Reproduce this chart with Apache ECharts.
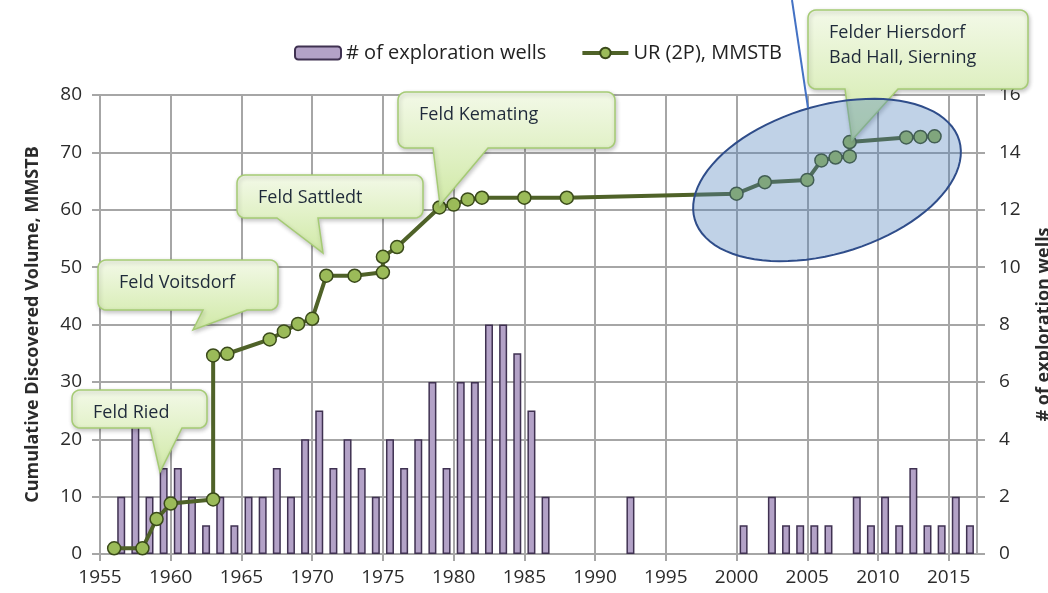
<!DOCTYPE html>
<html>
<head>
<meta charset="utf-8">
<title>Exploration wells and cumulative discovered volume</title>
<script src="https://cdn.jsdelivr.net/npm/echarts@6/dist/echarts.min.js"></script>
<style>
    html, body { margin: 0; padding: 0; background: #fff; }
    #chart { width: 1048px; height: 593px; }
</style>
</head>
<body>
<div id="chart"></div>
<script>
    // # of exploration wells per year (right axis)
    const wellYears = [1956, 1957, 1958, 1959, 1960, 1961, 1962, 1963, 1964, 1965, 1966, 1967, 1968, 1969, 1970,
        1971, 1972, 1973, 1974, 1975, 1976, 1977, 1978, 1979, 1980, 1981, 1982, 1983, 1984, 1985, 1986,
        1992, 2000, 2002, 2003, 2004, 2005, 2006, 2008, 2009, 2010, 2011, 2012, 2013, 2014, 2015, 2016];
    const wellCounts = [2, 5, 2, 3, 3, 2, 1, 2, 1, 2, 2, 3, 2, 4, 5,
        3, 4, 3, 2, 4, 3, 4, 6, 3, 6, 6, 8, 8, 7, 5, 2,
        2, 1, 2, 1, 1, 1, 1, 2, 1, 2, 1, 3, 1, 1, 2, 1];

    // UR (2P), MMSTB - cumulative discovered volume (left axis)
    const urYears = [1956, 1958, 1959, 1960, 1963, 1963, 1964, 1967, 1968, 1969, 1970, 1971, 1973, 1975, 1975, 1976,
        1979, 1980, 1981, 1982, 1985, 1988, 2000, 2002, 2005, 2006, 2007, 2008, 2008, 2012, 2013, 2014];
    const urValues = [1, 1, 6.1, 8.8, 9.5, 34.6, 34.9, 37.4, 38.8, 40.1, 41, 48.5, 48.5, 49.1, 51.8, 53.5,
        60.4, 60.9, 61.8, 62.1, 62.1, 62.1, 62.8, 64.8, 65.2, 68.6, 69.1, 69.3, 71.8, 72.6, 72.7, 72.8];

    const yearMin = 1955, yearMax = 2017, yearStep = 5;
    const volumeMax = 80, volumeStep = 10;
    const wellsMax = 16, wellsStep = 2;

    // text boxes drawn on top of the chart (pixel layout)
    const callouts = [
        {lines: ['Feld Ried'], box: [72, 390, 135, 38], base: [150, 182], tip: [160, 472]},
        {lines: ['Feld Voitsdorf'], box: [98, 260, 180, 50], base: [203, 247], tip: [193, 330]},
        {lines: ['Feld Sattledt'], box: [237, 175, 186, 43], base: [277, 318], tip: [323, 253]},
        {lines: ['Feld Kemating'], box: [398, 92, 217, 56], base: [433, 488], tip: [440, 205]},
        {lines: ['Felder Hiersdorf', 'Bad Hall, Sierning'], box: [808, 10, 220, 79], base: [845, 898], tip: [852, 140]}
    ];

    const FONT = '"Open Sans", "DejaVu Sans", sans-serif';
    const GRID_COLOR = '#a6a6a6';
    const LABEL_COLOR = '#2b2b2b';

    //rounded box with a pointer, as polygon points
    function calloutPoints(c) {
        const [x, y, w, h] = c.box;
        const r = 8, b = y + h, pts = [];
        const arc = (cx, cy, a0, a1) => {
            for (let k = 0; k <= 6; k++) {
                const a = (a0 + (a1 - a0) * k / 6) * Math.PI / 180;
                pts.push([cx + r * Math.cos(a), cy + r * Math.sin(a)]);
            }
        };
        arc(x + w - r, y + r, -90, 0);
        arc(x + w - r, b - r, 0, 90);
        pts.push([c.base[1], b], c.tip, [c.base[0], b]);
        arc(x + r, b - r, 90, 180);
        arc(x + r, y + r, 180, 270);
        return pts;
    }

    function ellipsePoints(cx, cy, a, b, deg) {
        const t = deg * Math.PI / 180, pts = [];
        for (let k = 0; k < 90; k++) {
            const s = k / 90 * Math.PI * 2;
            const ex = a * Math.cos(s), ey = b * Math.sin(s);
            pts.push([cx + ex * Math.cos(t) + ey * Math.sin(t), cy - ex * Math.sin(t) + ey * Math.cos(t)]);
        }
        return pts;
    }

    const graphics = [];
    callouts.forEach(c => {
        graphics.push({
            type: 'polygon',
            z: 20,
            shape: {points: calloutPoints(c)},
            style: {
                fill: new echarts.graphic.LinearGradient(0, 0, 0, 1, [
                    {offset: 0, color: '#f3f9e8'},
                    {offset: 1, color: '#d0e9a6'}
                ]),
                stroke: '#a5cb74',
                lineWidth: 1.5,
                shadowBlur: 4,
                shadowOffsetX: 1,
                shadowOffsetY: 2,
                shadowColor: 'rgba(0,0,0,0.22)'
            }
        });
        c.lines.forEach((t, i) => {
            graphics.push({
                type: 'text',
                z: 21,
                style: {
                    text: t,
                    x: c.box[0] + 21,
                    y: c.box[1] + 23 + i * 25,
                    fill: '#1f2a3a',
                    fontSize: 18,
                    fontFamily: FONT,
                    verticalAlign: 'middle'
                }
            });
        });
    });
    graphics.push({
        type: 'polygon',
        z: 22,
        shape: {points: ellipsePoints(827, 180, 138, 74, 16.7)},
        style: {fill: 'rgba(79,129,189,0.36)', stroke: '#2f4d8a', lineWidth: 2}
    });
    graphics.push({
        type: 'line',
        z: 23,
        shape: {x1: 792, y1: 0, x2: 808, y2: 108},
        style: {stroke: '#4472c4', lineWidth: 2}
    });

    const chart = echarts.init(document.getElementById('chart'));
    chart.setOption({
        animation: false,
        backgroundColor: '#fff',
        textStyle: {fontFamily: FONT},
        grid: {left: 100, right: 71, top: 95, bottom: 39, containLabel: false, outerBoundsMode: 'none'},
        legend: {
            left: 289,
            top: 38,
            itemWidth: 46,
            itemHeight: 13,
            itemGap: 34,
            textStyle: {fontSize: 20, color: '#222', fontFamily: FONT},
            data: [
                {name: '# of exploration wells'},
                {name: 'UR (2P), MMSTB', lineStyle: {width: 4}}
            ]
        },
        xAxis: {
            type: 'value',
            min: yearMin,
            max: yearMax,
            interval: yearStep,
            axisLine: {show: true, lineStyle: {color: GRID_COLOR, width: 2}},
            axisTick: {show: true, length: 7, lineStyle: {color: GRID_COLOR, width: 2}},
            axisLabel: {fontSize: 19, color: LABEL_COLOR, margin: 14, showMaxLabel: false, formatter: v => String(v)},
            splitLine: {show: true, lineStyle: {color: GRID_COLOR, width: 2}}
        },
        yAxis: [{
            type: 'value',
            min: 0,
            max: volumeMax,
            interval: volumeStep,
            name: 'Cumulative Discovered Volume, MMSTB',
            nameLocation: 'middle',
            nameGap: 58,
            nameTextStyle: {fontSize: 18, fontWeight: 'bold', color: LABEL_COLOR},
            axisLine: {show: true, lineStyle: {color: GRID_COLOR, width: 2}},
            axisTick: {show: true, length: 8, lineStyle: {color: GRID_COLOR, width: 2}},
            axisLabel: {fontSize: 19, color: LABEL_COLOR, margin: 18},
            splitLine: {show: true, lineStyle: {color: GRID_COLOR, width: 2}}
        }, {
            type: 'value',
            min: 0,
            max: wellsMax,
            interval: wellsStep,
            position: 'right',
            name: '# of exploration wells',
            nameLocation: 'middle',
            nameGap: 58,
            nameRotate: 90,
            nameTextStyle: {fontSize: 18, fontWeight: 'bold', color: LABEL_COLOR},
            axisLine: {show: true, lineStyle: {color: GRID_COLOR, width: 2}},
            axisTick: {show: true, length: 8, lineStyle: {color: GRID_COLOR, width: 2}},
            axisLabel: {fontSize: 19, color: LABEL_COLOR, margin: 22},
            splitLine: {show: false}
        }],
        series: [{
            name: '# of exploration wells',
            type: 'bar',
            yAxisIndex: 1,
            barWidth: 8,
            // Excel puts each year's bar in the middle of that year
            data: wellYears.map((y, i) => [y + 0.5, wellCounts[i]]),
            itemStyle: {color: '#b3a2c7', borderColor: '#3f3151', borderWidth: 1.5}
        }, {
            name: 'UR (2P), MMSTB',
            type: 'line',
            yAxisIndex: 0,
            z: 5,
            symbol: 'circle',
            symbolSize: 13,
            data: urYears.map((y, i) => [y, urValues[i]]),
            lineStyle: {color: '#4f6228', width: 4},
            itemStyle: {color: '#9bbb59', borderColor: '#3a4a1a', borderWidth: 1.5}
        }],
        graphic: graphics
    });
</script>
</body>
</html>
